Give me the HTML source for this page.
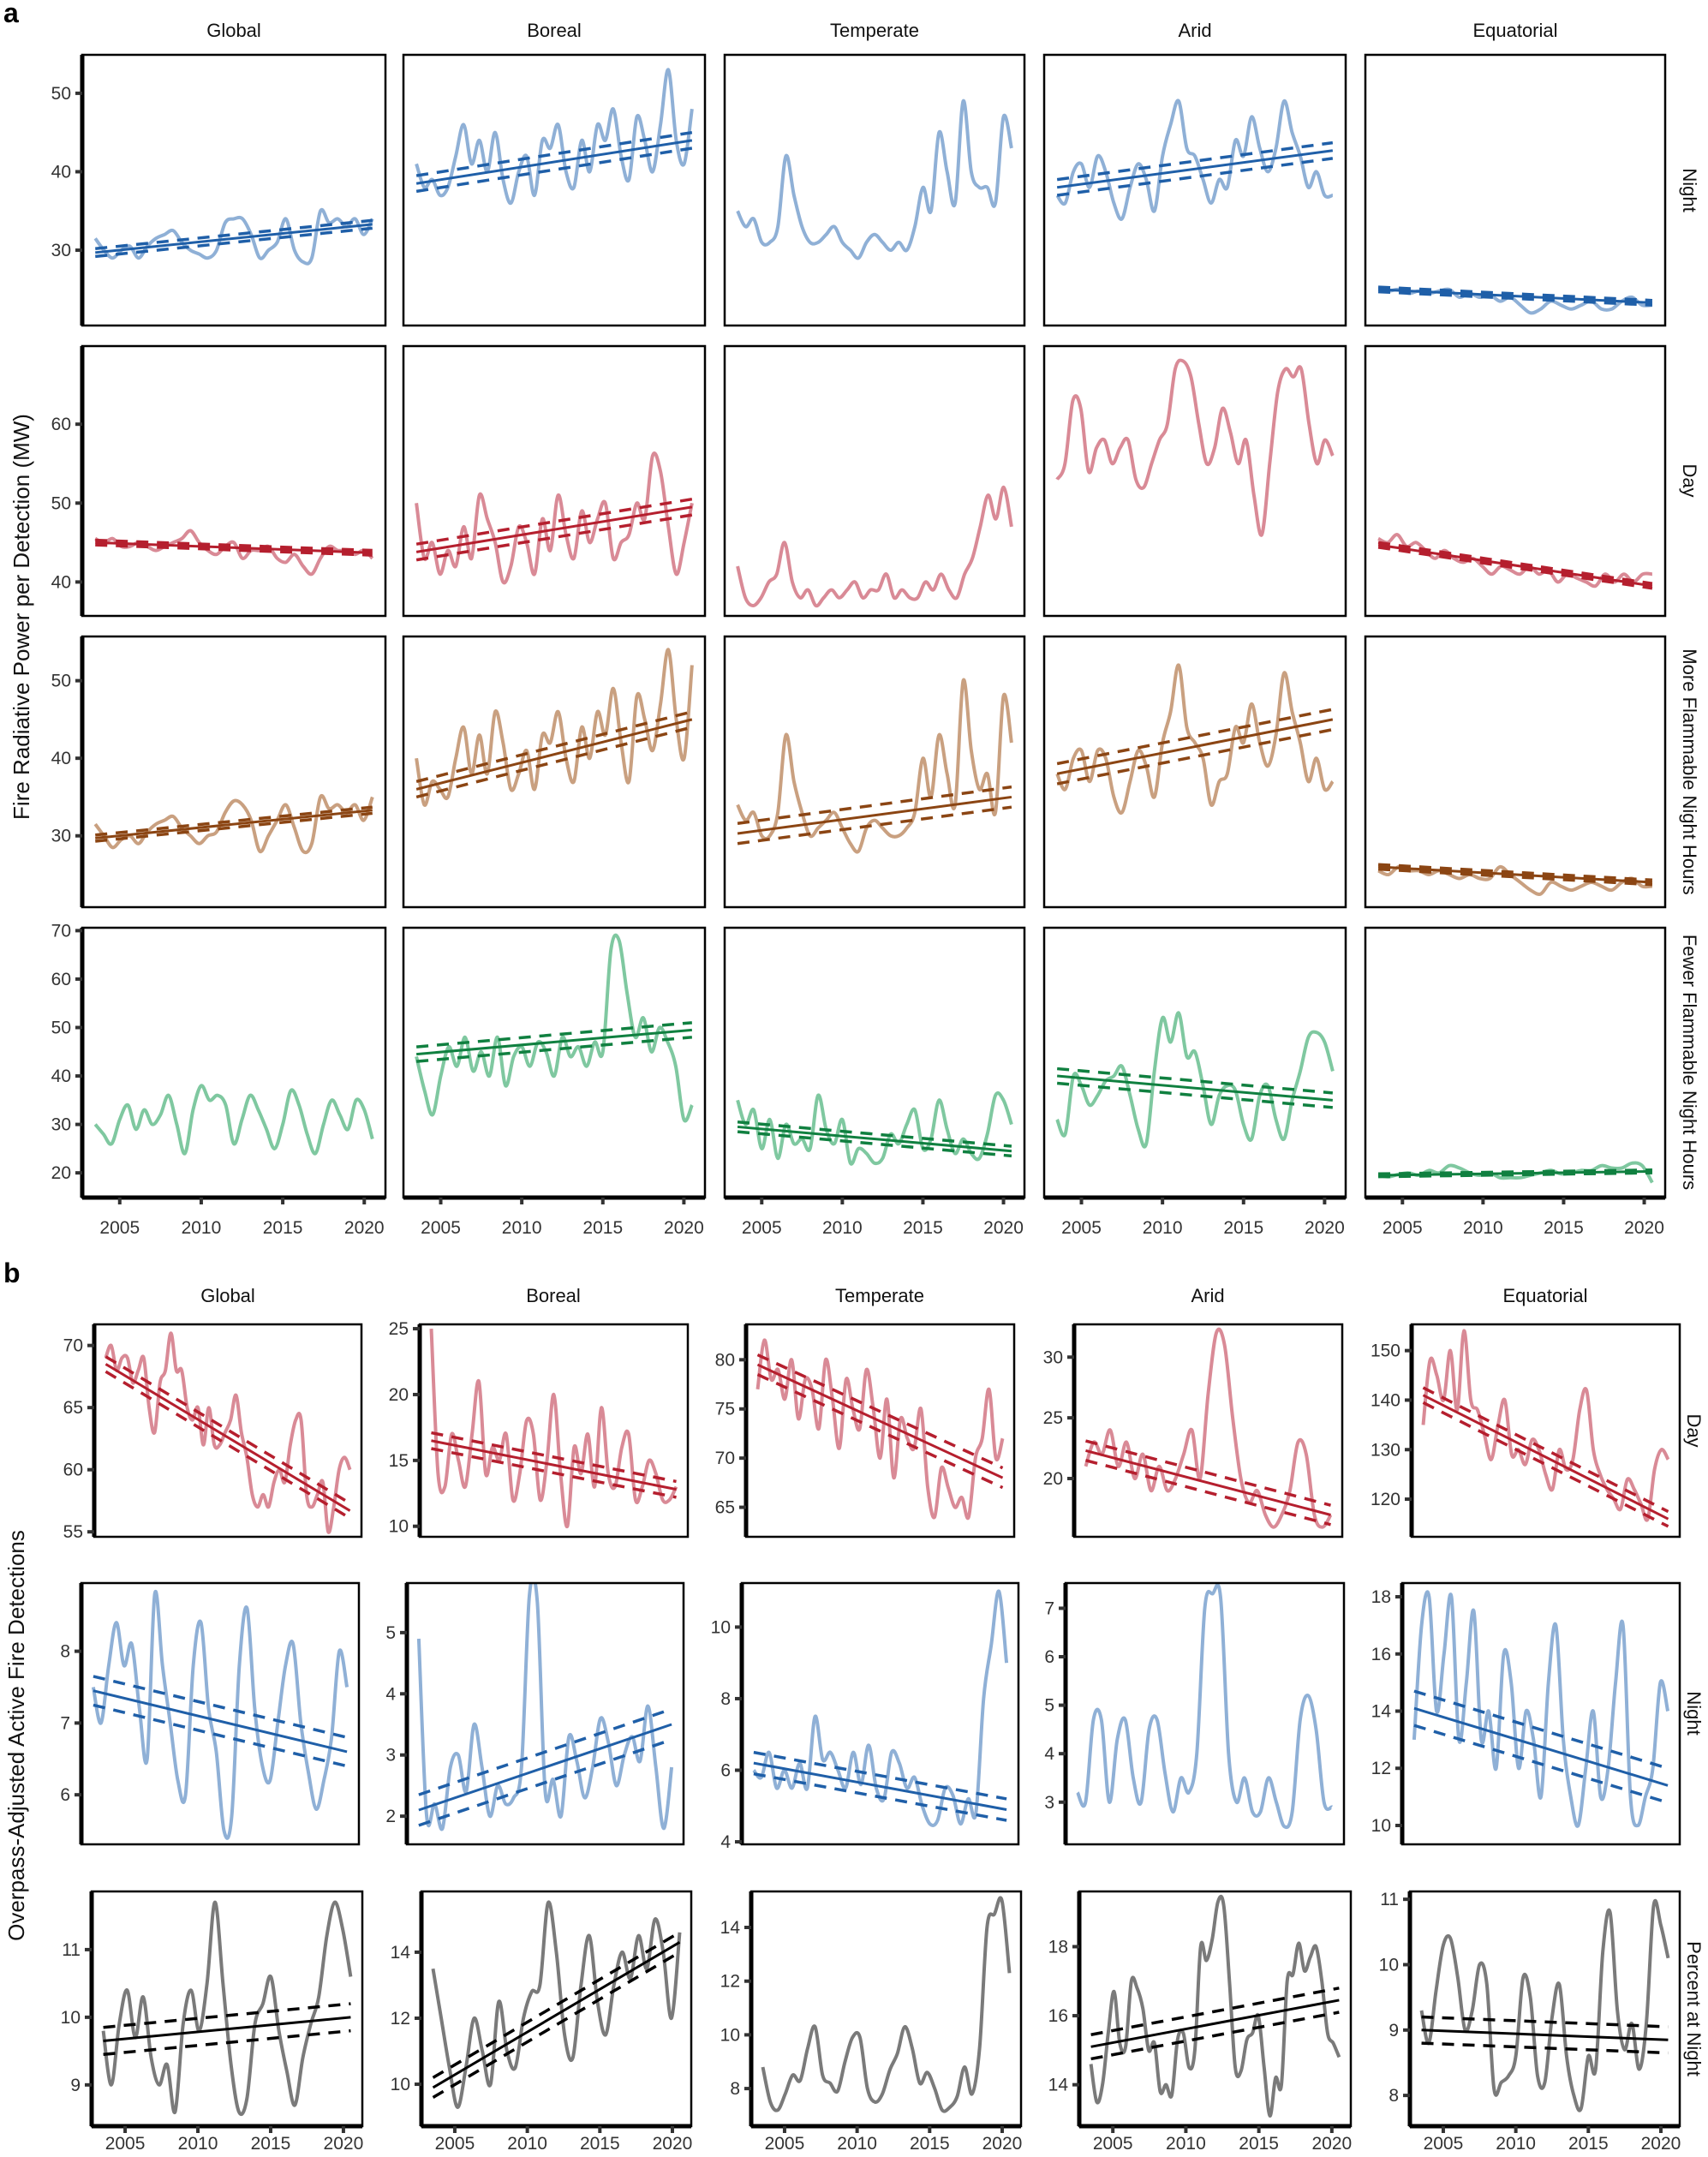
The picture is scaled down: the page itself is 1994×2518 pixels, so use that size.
<!DOCTYPE html>
<html><head><meta charset="utf-8"><style>
html,body{margin:0;padding:0;background:#fff}
svg{display:block;font-family:"Liberation Sans",Arial,sans-serif}
</style></head><body>
<svg id="s" width="1994" height="2518" viewBox="0 0 1994 2518" xmlns="http://www.w3.org/2000/svg">
<rect width="1994" height="2518" fill="#fff"/>
<defs id="defs"></defs>
<text x="4" y="26" font-size="32" font-weight="bold">a</text>
<text x="4" y="1497" font-size="32" font-weight="bold">b</text>
<g font-size="22" fill="#111" text-anchor="middle">
<text x="273" y="43">Global</text><text x="647" y="43">Boreal</text><text x="1021" y="43">Temperate</text><text x="1395" y="43">Arid</text><text x="1769" y="43">Equatorial</text>
<text x="266" y="1520">Global</text><text x="646" y="1520">Boreal</text><text x="1027" y="1520">Temperate</text><text x="1410" y="1520">Arid</text><text x="1804" y="1520">Equatorial</text>
</g>
<g font-size="22" fill="#111" text-anchor="middle">
<text transform="translate(1965,222) rotate(90)">Night</text>
<text transform="translate(1965,561) rotate(90)">Day</text>
<text transform="translate(1965,901) rotate(90)">More Flammable Night Hours</text>
<text transform="translate(1965,1240) rotate(90)">Fewer Flammable Night Hours</text>
<text transform="translate(1970,1670) rotate(90)">Day</text>
<text transform="translate(1970,2000) rotate(90)">Night</text>
<text transform="translate(1970,2345) rotate(90)">Percent at Night</text>
</g>
<g font-size="26" fill="#111" text-anchor="middle">
<text transform="translate(34,720) rotate(-90)">Fire Radiative Power per Detection (MW)</text>
<text transform="translate(28,2026) rotate(-90)">Overpass-Adjusted Active Fire Detections</text>
</g>
<g id="g"></g>
</svg>
<script>
var NS="http://www.w3.org/2000/svg",G=document.getElementById("g"),DF=document.getElementById("defs"),cid=0;
function el(t,a,par){var e=document.createElementNS(NS,t);for(var k in a)e.setAttribute(k,a[k]);(par||G).appendChild(e);return e;}
function txt(x,y,s,anc,sz){var e=el("text",{x:x,y:y,"font-size":sz||21,fill:"#333","text-anchor":anc});e.textContent=s;}
var C={N:["#8fb0d6","#1f5fa8"],D:["#d98a96","#b51f2e"],F:["#c9a080","#8b4513"],W:["#7fc8a0","#108040"],P:["#7a7a7a","#000"]};
function smooth(pts){var d="M"+pts[0][0].toFixed(1)+","+pts[0][1].toFixed(1);
 for(var i=0;i<pts.length-1;i++){var p0=pts[i-1]||pts[i],p1=pts[i],p2=pts[i+1],p3=pts[i+2]||p2;
  var c1x=p1[0]+(p2[0]-p0[0])/6,c1y=p1[1]+(p2[1]-p0[1])/6,c2x=p2[0]-(p3[0]-p1[0])/6,c2y=p2[1]-(p3[1]-p1[1])/6;
  d+=" C"+c1x.toFixed(1)+","+c1y.toFixed(1)+" "+c2x.toFixed(1)+","+c2y.toFixed(1)+" "+p2[0].toFixed(1)+","+p2[1].toFixed(1);}
 return d;}
function panel(x0,x1,y0,y1,lo,hi,ticks,leftAxis,bottom,col,data,tr,ci){
 var w=x1-x0,h=y1-y0;
 function X(yr){return x0+(yr-2002.7)/18.6*w;}
 function Y(v){return y1-(v-lo)/(hi-lo)*h;}
 var id="c"+(cid++);var cp=el("clipPath",{id:id},DF);el("rect",{x:x0,y:y0,width:w,height:h},cp);
 var n=data.length,p=[];
 for(var i=0;i<n;i++){p.push([X(2003.5+17*i/(n-1)),Y(data[i])]);}
 el("path",{d:smooth(p),fill:"none",stroke:C[col][0],"stroke-width":4,"stroke-linejoin":"round","clip-path":"url(#"+id+")"});
 if(tr){var a=X(2003.5),b=X(2020.5);
  el("line",{x1:a,y1:Y(tr[0]),x2:b,y2:Y(tr[1]),stroke:C[col][1],"stroke-width":3});
  [-1,1].forEach(function(s){el("line",{x1:a,y1:Y(tr[0]+s*ci),x2:b,y2:Y(tr[1]+s*ci),stroke:C[col][1],"stroke-width":3.5,"stroke-dasharray":"14 10"});});}
 el("rect",{x:x0,y:y0,width:w,height:h,fill:"none",stroke:"#000","stroke-width":2.5});
 if(leftAxis){el("line",{x1:x0,y1:y0,x2:x0,y2:y1,stroke:"#000","stroke-width":5});
  ticks.forEach(function(t){var yy=Y(t);el("line",{x1:x0-8,y1:yy,x2:x0,y2:yy,stroke:"#333","stroke-width":4});txt(x0-13,yy+7,String(t),"end");});}
 if(bottom){el("line",{x1:x0,y1:y1,x2:x1,y2:y1,stroke:"#000","stroke-width":5});
  [2005,2010,2015,2020].forEach(function(t){var xx=X(t);el("line",{x1:xx,y1:y1,x2:xx,y2:y1+8,stroke:"#333","stroke-width":4});txt(xx,bottom,String(t),"middle");});}
}
var AX=[[96,450],[471,823],[846,1196],[1219,1571],[1594,1944]];
var AY=[[64,380],[404,719],[743,1059],[1083,1398]];
var AR=[[20.4,54.9,[30,40,50],"N"],[35.7,69.9,[40,50,60],"D"],[20.8,55.7,[30,40,50],"F"],[14.9,70.6,[20,30,40,50,60,70],"W"]];
var AD=[
[[31.5,30,29,30,30.5,29,30.5,31.5,32,32.5,31,30,29.5,29,30,33.5,34,34,32,29,30,31,34,30,28.5,29,35,33.5,34,33,34,32,34],[29.7,33.3],.5],
[[41,38,39,37,38,42,46,41,44,40,45,39,36,40,42,37,44,43,46,40,38,44,40,46,44,48,42,39,47,44,40,46,53,44,41,48],[38.5,44],1],
[[35,33,34,31,31,33,42,37,33,31,31,32,33,31,30,29,31,32,31,30,31,30,33,38,35,45,40,36,49,40,38,38,36,47,43],null],
[[37,36,40,41,38,42,40,36,34,38,41,39,35,42,46,49,43,42,39,36,39,38,44,42,47,43,40,43,49,45,42,38,40,37,37],[38,42.7],1],
[[25,24.8,25,24.5,24.8,24.5,24.8,25,24,24.5,24,24.3,23.5,24,23,22,22.5,23.5,23,22.5,23,23.5,22.5,22.5,23.5,24,23,23],[25,23.3],.3],
[[45.5,45,45.5,44.5,44.5,45,44.5,44,44.5,45,45.5,46.5,45,44,43.5,44.5,45,43,44,44,44.5,43,42.5,43.5,42,41,43,44.5,44,44,43.5,44,43],[45,43.7],.3],
[[50,43,45,41,44,42,47,43,51,48,45,40,42,47,45,41,48,44,51,46,43,49,45,48,50,43,45,46,50,48,56,54,47,41,45,50],[43.8,49.5],1],
[[42,38,37,38,40,41,45,40,38,39,37,38,39,38,39,40,38,39,39,41,38,39,38,38,40,39,41,39,38,41,43,47,51,48,52,47],null],
[[53,55,63,62,54,57,58,55,57,58,53,52,55,58,60,67,68,66,60,55,57,62,59,55,58,51,46,55,64,67,66,67,60,55,58,56],null],
[[45.5,45,46,44.5,45,44,43,44,43,42.5,43,42,41,42,41.5,41,42,41,41.5,40,41,40.5,40,39.5,41,40,41,40,41,41],[44.7,39.5],.3],
[[31.5,30,28.5,29.5,30,29,30.5,31.5,32,32.5,31,30,29,30,30.5,33,34.5,34,32,28,30,32,34,31,28,29,35,33.5,34,33,34,32,35],[29.7,33.3],.4],
[[40,34,37,36,35,40,44,38,43,38,46,42,36,38,41,36,43,42,46,40,37,44,40,46,43,49,42,37,48,45,41,47,54,45,40,52],[36,45],1],
[[34,32,33,30,30,33,43,37,33,30,31,32,33,31,29,28,31,32,31,30,30,31,33,40,35,43,38,34,50,41,36,38,33,48,42],[30.3,35],1.3],
[[38,36,40,41,37,41,40,35,33,37,41,39,35,42,46,52,44,42,40,34,37,38,44,42,47,42,39,43,51,46,42,37,40,36,37],[38,45],1.3],
[[25.5,25,26,25.5,25.5,25,25.5,25,24.5,25,24.5,24.5,26,25,24,23,22.5,24,23.5,23,23.5,24,23.5,23,24,24.5,23.5,23.5],[26,24],.3],
[[30,28,26,31,34,29,33,30,32,36,30,24,33,38,35,36,34,26,31,36,33,29,25,30,37,34,28,24,30,35,32,29,35,33,27],null],
[[44,37,32,40,46,42,48,41,45,40,48,38,44,46,42,47,45,40,48,44,46,42,47,45,66,68,57,48,52,45,50,47,42,31,34],[44.5,49.5],1.5],
[[35,30,33,25,31,23,30,26,27,25,36,29,26,31,22,25,24,22,23,28,26,30,33,25,27,35,29,24,27,24,23,28,36,35,30],[29.5,24.5],1],
[[31,28,40,38,34,36,39,40,42,36,29,26,41,52,47,53,44,45,38,30,36,38,37,30,27,36,38,31,27,35,41,48,49,47,41],[40,35],1.5],
[[19.5,19.2,19.7,20,19.5,20.5,20,21.5,21,20,19.5,20,19,19,19,19.5,20,20.5,19.8,20,20.5,20.5,21.5,21,21,22,21.5,18],[19.5,20.3],.3]];
for(var r=0;r<4;r++)for(var c=0;c<5;c++){var d=AD[r*5+c],R=AR[r];
 panel(AX[c][0],AX[c][1],AY[r][0],AY[r][1],R[0],R[1],R[2],c==0,r==3?1440:0,R[3],d[0],d[1],d[2]);}
var BX=[[[110,422],[490,803],[871,1184],[1254,1567],[1648,1961]],
        [[95,419],[475,798],[866,1189],[1244,1569],[1637,1961]],
        [[107,423],[492,807],[877,1192],[1260,1577],[1646,1961]]];
var BY=[[1546,1794],[1848,2153],[2208,2482]];
var BD=[
[71.7,54.6,[55,60,65,70],"D",[69,70,68,69,69,67,68,69,65,63,67,68,71,68,68,65,64,65,62,65,62,62,63,64,66,63,61,58,57,58,57,59,60,59,62,64,64,58,57,58,59,55,57,60,61,60],[68.5,56.7],.6],
[25.33,9.2,[10,15,20,25],"D",[25,14,13,17,15,13,17,21,14,16,15,17,12,14,18,17,12,15,20,14,10,16,14,17,13,19,14,13,16,17,12,13,15,14,12,12,13],[16.5,12.8],.6],
[83.6,62.0,[65,70,75,80],"D",[77,82,78,79,76,80,74,78,77,73,80,76,71,78,75,73,79,75,70,76,68,74,72,71,75,67,64,69,67,65,66,64,70,72,77,70,72],[79.5,68],1],
[32.7,15.2,[20,25,30],"D",[21,23,22,24,21,23,20,22,19,21,19,20,22,24,20,27,32,31,25,20,18,19,17,16,17,19,23,22,17,16,17],[22.3,17],.8],
[155.3,112.4,[120,130,140,150],"D",[135,148,145,140,150,138,154,140,138,133,128,135,140,129,130,127,132,130,125,122,130,126,128,138,142,130,125,122,120,118,124,122,119,116,126,130,128],[141,116],1.5],
[8.95,5.31,[6,7,8],"N",[7.5,7,7.8,8.4,7.8,8.1,7.2,6.5,8.8,7.8,7,6.2,6,7.8,8.4,7.2,6.6,5.5,5.7,7.8,8.6,7.2,6.4,6.2,7,7.8,8.1,7,6.3,5.8,6.2,6.8,8,7.5],[7.45,6.6],.2],
[5.81,1.54,[2,3,4,5],"N",[4.9,2,2.2,1.8,2.8,3,2.4,3.5,2.8,2,2.5,2.2,2.3,2.8,5.6,5.5,2.4,2.6,2,3.3,2.9,2.3,2.8,3.6,3.2,2.5,3,3.3,2.9,3.8,2.8,1.8,2.8],[2.1,3.5],.25],
[11.23,3.93,[4,6,8,10],"N",[6,5.8,6.5,5.5,6,5.5,6.2,5.5,7.5,6.3,6.5,6,5.5,6.5,5.6,6.7,5.5,5.2,6.5,6.2,5.5,5.8,5,4.5,4.6,5.5,5.3,4.5,5.2,4.8,8,9.5,11,9],[6.2,4.9],.3],
[7.52,2.13,[3,4,5,6,7],"N",[3.2,3,4.7,4.7,3,4.3,4.7,3.5,3,4.5,4.7,3.6,2.8,3.5,3.2,4,7,7.3,7.2,4,3,3.5,2.8,2.8,3.5,3,2.5,2.8,4.7,5.2,4.5,3,2.9],null,0],
[18.48,9.34,[10,12,14,16,18],"N",[13,17,18,14,16,18,13,15,17.5,13,14,12,16,15,12,14,13,11,15,17,13,11,10,12,14,11,12,15,17,11,10,11,12,15,14],[14.1,11.4],.6],
[11.86,8.39,[9,10,11],"P",[9.8,9,9.9,10.4,9.7,10.3,9.4,9,9.3,8.6,9.9,10.4,9.8,10.5,11.7,10.5,9.3,8.6,8.8,9.9,10.2,10.6,9.8,9.2,8.7,9.4,9.9,10.3,11.2,11.7,11.3,10.6],[9.65,10],.2],
[15.84,8.73,[10,12,14],"P",[13.5,12,10.5,9.3,10.5,12,11,10,12.5,11,10.5,12,12.8,13,15.5,14,11.5,10.8,13,14.5,12.5,11.5,13,14,13.2,14.5,13.5,15,14,12,14.6],[9.9,14.3],.3],
[15.34,6.6,[8,10,12,14],"P",[8.8,7.5,7.2,7.8,8.5,8.3,9.5,10.3,8.5,8.2,7.9,9,9.9,9.9,8,7.5,7.8,8.7,9.3,10.3,9.5,8.2,8.6,8,7.2,7.3,7.7,8.8,7.8,9.5,14,14.5,15,12.3],null,0],
[19.6,12.8,[14,16,18],"P",[14.6,13.5,14,15.5,16.7,15.2,15.1,17,16.8,16.2,15,15.2,13.8,14,13.7,15.3,15.5,14.5,15,18,17.6,18.2,19.3,19.2,17,14.5,14.4,15.3,15.5,16,14.5,13.1,14.2,14,17,17.2,18.1,17.3,17.7,18,17,15.5,15.2,14.8],[15.1,16.45],.35],
[11.12,7.53,[8,9,10,11],"P",[9.3,8.8,9.6,10.3,10.4,9.8,9,9.3,10,9.7,8.1,8.2,8.3,8.6,9.8,9.5,8.3,8.2,9.2,9.7,8.6,8,7.8,8.6,8.4,10.2,10.8,9.3,8.7,9.1,8.4,9.1,10.9,10.6,10.1],[9,8.85],.2]];
for(var r=0;r<3;r++)for(var c=0;c<5;c++){var d=BD[r*5+c];
 panel(BX[r][c][0],BX[r][c][1],BY[r][0],BY[r][1],d[1],d[0],d[2],true,r==2?2509:0,d[3],d[4],d[5],d[6]);}
</script>
</body></html>
